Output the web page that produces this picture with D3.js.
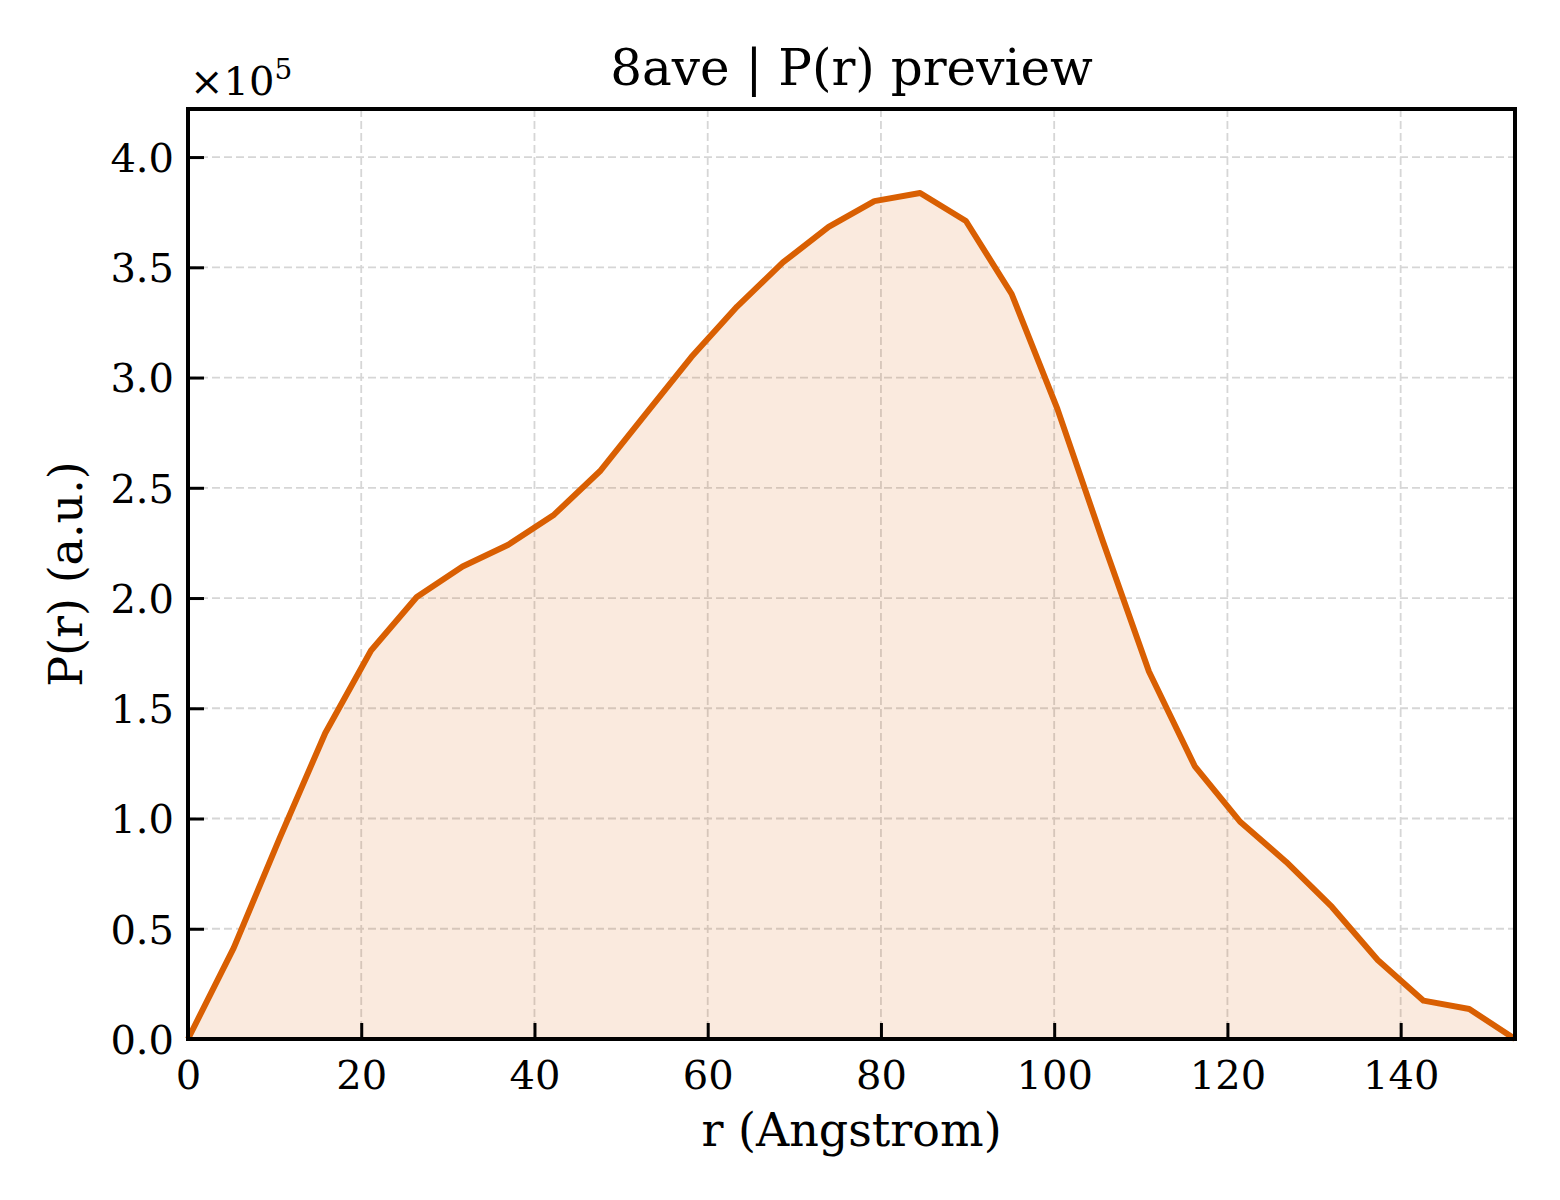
<!DOCTYPE html>
<html>
<head>
<meta charset="utf-8">
<script src="https://cdn.jsdelivr.net/npm/d3@7"></script>
<style>
  html, body { margin: 0; padding: 0; background: #fff; overflow: hidden; }
  svg { display: block; }
  svg text { font-family: "DejaVu Serif", serif; fill: #000; }
</style>
</head>
<body>
<div id="chart"></div>
<script>
// r grid (Angstrom) and P(r) values
const rValues = [0, 5.28, 10.57, 15.85, 21.13, 26.41, 31.70, 36.98, 42.26, 47.55,
  52.83, 58.11, 63.39, 68.68, 73.96, 79.24, 84.52, 89.81, 95.09, 100.37,
  105.66, 110.94, 116.22, 121.50, 126.79, 132.07, 137.35, 142.64, 147.92, 153.20];
const prValues = [0, 41300, 91000, 138800, 176200, 200500, 214300, 224200, 237800, 257500,
  283400, 309300, 332200, 352200, 368300, 380000, 383700, 371000, 337900, 285800,
  225300, 166700, 123800, 98400, 80300, 59900, 35800, 17400, 13600, 0];
const xTicks = [0, 20, 40, 60, 80, 100, 120, 140];
const yTicks = [0, 50000, 100000, 150000, 200000, 250000, 300000, 350000, 400000];

const width = 1560;
const height = 1200;
const margins = { top: 109, right: 45, bottom: 161, left: 188 };
const innerWidth = width - margins.left - margins.right;
const innerHeight = height - margins.top - margins.bottom;

const lineColor = '#d95f02';

const svg = d3.select('#chart')
  .append('svg')
  .attr('width', width)
  .attr('height', height);

const g = svg.append('g')
  .attr('transform', `translate(${margins.left},${margins.top})`);

const xScale = d3.scaleLinear()
  .domain([0, d3.max(rValues)])
  .range([0, innerWidth]);

const yScale = d3.scaleLinear()
  .domain([0, 421800])
  .range([innerHeight, 0]);

const data = rValues.map((r, i) => ({ r: r, p: prValues[i] }));

// grid
g.append('g')
  .selectAll('line')
  .data(xTicks)
  .enter()
  .append('line')
  .attr('x1', d => xScale(d))
  .attr('x2', d => xScale(d))
  .attr('y1', 0)
  .attr('y2', innerHeight)
  .attr('stroke', '#d6d6d6')
  .attr('stroke-width', 1.8)
  .attr('stroke-dasharray', '8,4');

g.append('g')
  .selectAll('line')
  .data(yTicks)
  .enter()
  .append('line')
  .attr('x1', 0)
  .attr('x2', innerWidth)
  .attr('y1', d => yScale(d))
  .attr('y2', d => yScale(d))
  .attr('stroke', '#d6d6d6')
  .attr('stroke-width', 1.8)
  .attr('stroke-dasharray', '8,4');

// filled area + curve
const area = d3.area()
  .x(d => xScale(d.r))
  .y0(innerHeight)
  .y1(d => yScale(d.p));

const line = d3.line()
  .x(d => xScale(d.r))
  .y(d => yScale(d.p));

g.append('path')
  .datum(data)
  .attr('d', area)
  .attr('fill', lineColor)
  .attr('fill-opacity', 0.13);

g.append('path')
  .datum(data)
  .attr('d', line)
  .attr('fill', 'none')
  .attr('stroke', lineColor)
  .attr('stroke-width', 6)
  .attr('stroke-linejoin', 'round');

// axes (ticks pointing inward)
const xAxis = g.append('g')
  .attr('transform', `translate(0,${innerHeight})`)
  .call(d3.axisBottom(xScale).tickValues(xTicks).tickSize(-16).tickPadding(10).tickFormat(d3.format('d')));

const yAxis = g.append('g')
  .call(d3.axisLeft(yScale).tickValues(yTicks).tickSize(-16).tickPadding(14).tickFormat(d => (d / 1e5).toFixed(1)));

[xAxis, yAxis].forEach(ax => {
  ax.select('.domain').remove();
  ax.selectAll('.tick line').attr('stroke', '#000').attr('stroke-width', 3);
  ax.selectAll('.tick text')
    .style('font-family', '"DejaVu Serif", serif')
    .style('font-size', '40px')
    .attr('fill', '#000');
});
xAxis.selectAll('.tick text').attr('dy', '1.0em');
yAxis.selectAll('.tick text').attr('dy', '0.36em');

// frame
g.append('rect')
  .attr('x', 0)
  .attr('y', 0)
  .attr('width', innerWidth)
  .attr('height', innerHeight)
  .attr('fill', 'none')
  .attr('stroke', '#000')
  .attr('stroke-width', 4);

// offset label
const offset = svg.append('text')
  .attr('x', margins.left + 2)
  .attr('y', 95)
  .style('font-size', '40px');
offset.append('tspan').text('×10');
offset.append('tspan')
  .attr('dy', -16)
  .style('font-size', '28px')
  .text('5');

// titles
svg.append('text')
  .attr('x', margins.left + innerWidth / 2)
  .attr('y', 85)
  .attr('text-anchor', 'middle')
  .style('font-size', '50px')
  .text('8ave | P(r) preview');

svg.append('text')
  .attr('x', margins.left + innerWidth / 2)
  .attr('y', 1146)
  .attr('text-anchor', 'middle')
  .style('font-size', '46px')
  .text('r (Angstrom)');

svg.append('text')
  .attr('transform', `translate(82,${margins.top + innerHeight / 2}) rotate(-90)`)
  .attr('text-anchor', 'middle')
  .style('font-size', '46px')
  .text('P(r) (a.u.)');
</script>
</body>
</html>
